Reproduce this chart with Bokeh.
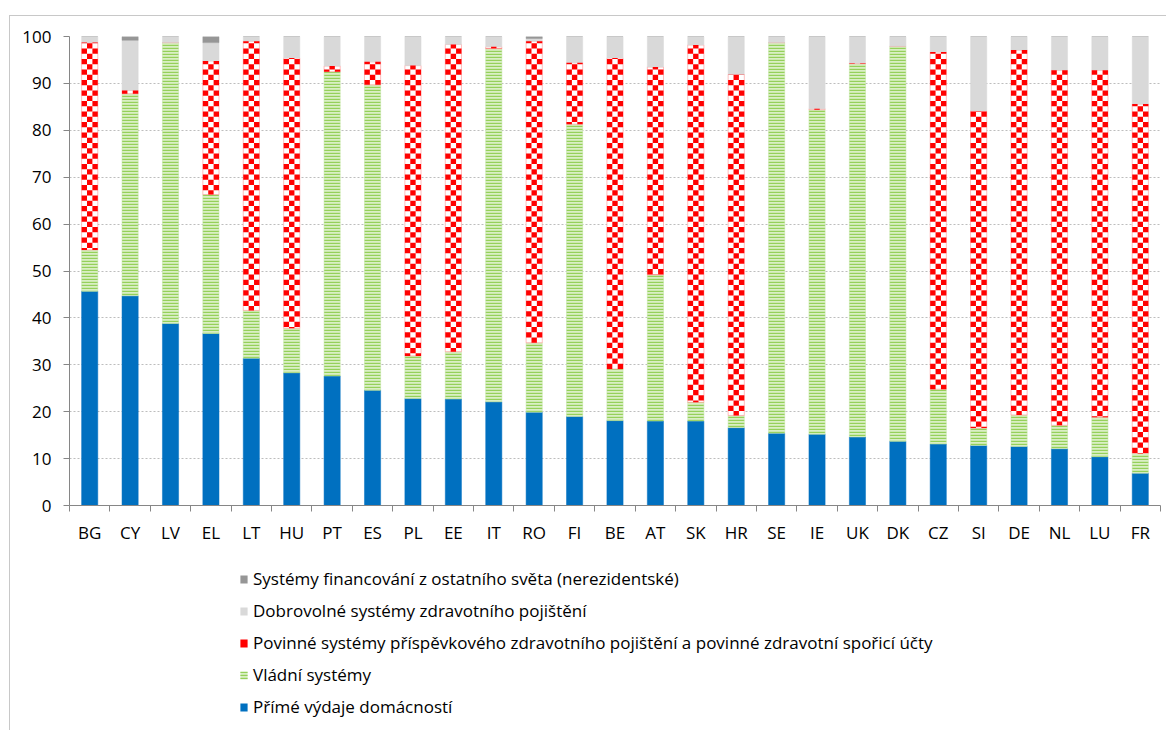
import math
from bokeh.plotting import figure
from bokeh.layouts import column
from bokeh.models import FixedTicker, Legend, LegendItem, Range1d, ColumnDataSource
from bokeh.transform import stack
from bokeh.embed import file_html
from bokeh.resources import INLINE

countries = ["BG", "CY", "LV", "EL", "LT", "HU", "PT", "ES", "PL", "EE", "IT", "RO", "FI", "BE",
             "AT", "SK", "HR", "SE", "IE", "UK", "DK", "CZ", "SI", "DE", "NL", "LU", "FR"]
direct = [45.7, 44.7, 38.8, 36.7, 31.4, 28.3, 27.6, 24.6, 22.8, 22.7, 22.1, 19.9, 19.0, 18.1,
          18.0, 18.0, 16.6, 15.4, 15.2, 14.6, 13.7, 13.1, 12.8, 12.6, 12.1, 10.4, 6.9]
government = [8.8, 43.1, 59.9, 29.6, 10.2, 9.5, 64.9, 65.1, 9.1, 10.1, 75.3, 14.8, 62.3, 11.0,
              31.2, 4.0, 2.6, 83.3, 69.2, 79.6, 84.2, 11.7, 3.7, 6.7, 5.0, 8.4, 4.2]
compulsory = [44.2, 0.7, 0.0, 28.5, 57.4, 57.6, 1.2, 4.9, 61.9, 65.5, 0.4, 64.3, 13.1, 66.3,
              44.3, 76.2, 72.7, 0.0, 0.2, 0.1, 0.0, 71.9, 67.6, 77.8, 75.7, 74.0, 74.5]
voluntary = [1.3, 10.7, 1.3, 3.9, 1.0, 4.6, 6.3, 5.4, 6.2, 1.7, 2.2, 0.6, 5.6, 4.6,
             6.5, 1.8, 8.1, 1.3, 15.4, 5.7, 2.1, 3.3, 15.9, 2.9, 7.2, 7.2, 14.4]
rest_of_world = [0.0, 0.8, 0.0, 1.3, 0.0, 0.0, 0.0, 0.0, 0.0, 0.0, 0.0, 0.4, 0.0, 0.0,
                 0.0, 0.0, 0.0, 0.0, 0.0, 0.0, 0.0, 0.0, 0.0, 0.0, 0.0, 0.0, 0.0]

series_names = ["direct", "government", "compulsory", "voluntary", "rest_of_world"]
series_labels = [
    "Přímé výdaje domácností",
    "Vládní systémy",
    "Povinné systémy příspěvkového zdravotního pojištění a povinné zdravotní spořicí účty",
    "Dobrovolné systémy zdravotního pojištění",
    "Systémy financování z ostatního světa (nerezidentské)",
]
y_ticks = [0, 10, 20, 30, 40, 50, 60, 70, 80, 90, 100]

FONT = "Open Sans"
BAR_W = 0.4
n = len(countries)
centers = [i + 0.5 for i in range(n)]
bounds = [i for i in range(n + 1)]

source = ColumnDataSource(dict(x=centers, direct=direct, government=government,
                               compulsory=compulsory, voluntary=voluntary,
                               rest_of_world=rest_of_world))

p = figure(width=1156, height=530, output_backend="svg", toolbar_location=None,
           x_range=Range1d(0, n), y_range=Range1d(0, 100),
           min_border_left=59, min_border_right=6, min_border_top=20, min_border_bottom=36)
p.outline_line_color = None
p.background_fill_color = "white"
p.border_fill_color = "white"

styles = [
    dict(fill_color="#0070C0", line_color="#0070C0", line_width=0.5),
    dict(fill_color="#d9efc4", line_color="#c3e4a4", line_width=0.5,
         hatch_pattern="horizontal_line", hatch_color="#95d05a", hatch_scale=3, hatch_weight=1.4),
    dict(fill_color="white", line_color="#ff9090", line_width=0.6),
    dict(fill_color="#d9d9d9", line_color="#d9d9d9", line_width=0.5),
    dict(fill_color="#969696", line_color="#969696", line_width=0.5),
]

renderers = []
for i, name in enumerate(series_names):
    r = p.vbar(x="x", width=BAR_W, bottom=stack(*series_names[:i]) if i else 0,
               top=stack(*series_names[:i + 1]), source=source, **styles[i])
    renderers.append(r)

# checkerboard texture of the compulsory-insurance segments (derived from the data)
cell_h = 1.12
ncols = 3
cw = BAR_W / ncols
L, R, B, T = [], [], [], []
for i in range(n):
    if compulsory[i] <= 0:
        continue
    b = direct[i] + government[i]
    t = b + compulsory[i]
    k = math.floor(b / cell_h)
    while k * cell_h < t:
        y0 = max(k * cell_h, b)
        y1 = min((k + 1) * cell_h, t)
        if y1 > y0:
            for c in range(ncols):
                if (k + c) % 2 == 0:
                    left = centers[i] - BAR_W / 2 + c * cw
                    L.append(left)
                    R.append(left + cw)
                    B.append(y0)
                    T.append(y1)
        k += 1
p.quad(left=L, right=R, bottom=B, top=T, fill_color="#ff0000", line_color=None)

# axes
xa = p.xaxis[0]
xa.ticker = FixedTicker(ticks=centers, minor_ticks=bounds)
xa.major_label_overrides = {c: lab for c, lab in zip(centers, countries)}
xa.major_tick_line_color = None
xa.minor_tick_in = 0
xa.minor_tick_out = 6
xa.minor_tick_line_color = "#868686"
xa.axis_line_color = "#868686"
xa.major_label_text_font = FONT
xa.major_label_text_font_size = "17px"
xa.major_label_text_color = "black"
xa.major_label_standoff = 9

ya = p.yaxis[0]
ya.ticker = FixedTicker(ticks=y_ticks)
ya.major_tick_in = 0
ya.major_tick_out = 6
ya.minor_tick_line_color = None
ya.major_tick_line_color = "#868686"
ya.axis_line_color = "#868686"
ya.major_label_text_font = FONT
ya.major_label_text_font_size = "17px"
ya.major_label_text_color = "black"
ya.major_label_standoff = 12

p.xgrid.grid_line_color = None
p.ygrid.grid_line_color = "#bdbdbd"
p.ygrid.grid_line_dash = "2 2"
p.ygrid.grid_line_width = 1

# legend panel (second figure below the chart)
lp = figure(width=1156, height=184, output_backend="svg", toolbar_location=None,
            x_range=Range1d(0, 1), y_range=Range1d(0, 1), x_axis_type=None, y_axis_type=None,
            min_border=0, min_border_left=0, min_border_right=0, min_border_top=0,
            min_border_bottom=0)
lp.outline_line_color = None
lp.xgrid.grid_line_color = None
lp.ygrid.grid_line_color = None
lp.background_fill_color = "white"
lp.border_fill_color = "white"

# one hidden sample bar per series (far outside the visible ranges) so the legend draws its swatch
hidden = ColumnDataSource(dict(x=[-50.0], b=[-50.0], t=[-49.0]))
leg_styles = {
    "rest_of_world": dict(fill_color="#969696", line_color=None),
    "voluntary": dict(fill_color="#d9d9d9", line_color=None),
    "compulsory": dict(fill_color="#ff0000", line_color=None),
    "government": dict(fill_color="#d9efc4", line_color=None, hatch_pattern="horizontal_line",
                       hatch_color="#95d05a", hatch_scale=3, hatch_weight=1.4),
    "direct": dict(fill_color="#0070C0", line_color=None),
}
items = []
for i in range(len(series_names) - 1, -1, -1):
    r = lp.vbar(x="x", top="t", bottom="b", width=0.01, source=hidden,
                **leg_styles[series_names[i]])
    items.append(LegendItem(label=series_labels[i], renderers=[r]))

legend = Legend(items=items, location=(170, 12), orientation="vertical",
                label_text_font=FONT, label_text_font_size="17px", label_text_color="black",
                glyph_width=9, glyph_height=10, label_standoff=5, label_height=20,
                spacing=9, padding=0, margin=0,
                background_fill_alpha=0, border_line_color=None)
lp.add_layout(legend, "center")

layout = column(p, lp, spacing=0)
layout.styles = {"border-left": "1px solid #c8c8c8", "border-top": "1px solid #c8c8c8",
                 "margin-top": "15px", "margin-left": "9px"}

open("out.html", "w").write(file_html(layout, INLINE))
